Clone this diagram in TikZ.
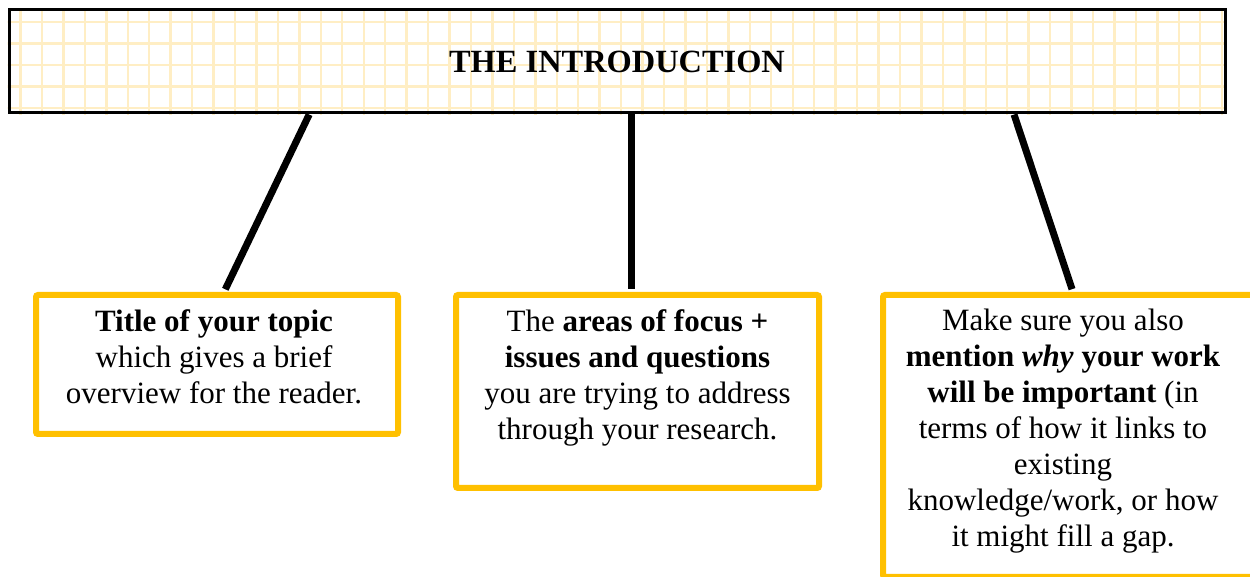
\documentclass[tikz,border=0pt]{standalone}
\usepackage{fontspec}
\setmainfont{Liberation Serif}
\usepackage{xcolor}
\usetikzlibrary{positioning,calc,backgrounds}
\definecolor{boxyellow}{HTML}{FFC000}
\definecolor{gridyellow}{HTML}{FFEEC4}

\begin{document}
\begin{tikzpicture}[x=0.5pt,y=-0.5pt,
		txt/.style={align=center,inner sep=0pt,font=\fontsize{15.5}{18}\selectfont},
		yellowbox/.style={draw=boxyellow,line width=3pt,rounded corners=1pt,fill=white},
		gridline/.style={gridyellow,line width=1.2pt},
		link/.style={line width=3.5pt,shorten >=1.5pt}]
		\useasboundingbox (0,0) rectangle (1250,577);
		\node[draw,line width=1.5pt,minimum width=608pt,minimum height=51.5pt,
			font=\fontsize{16.2}{19}\selectfont\bfseries] (title) at (617,61.5) {THE INTRODUCTION};
		% squared paper behind the heading
		\begin{scope}[on background layer]
			\clip (title.south west) rectangle (title.north east);
			\foreach \i in {0,...,56}
				\draw[gridline] ({20.5+21.45*\i},0) -- ++(0,130);
			\foreach \j in {0,...,5}
				\draw[gridline] (0,{0.5+21.5*\j}) -- ++(1250,0);
		\end{scope}
		
		\node[yellowbox,minimum width=181pt,minimum height=69.5pt] (topic) at (217,364.5) {};
		\node[yellowbox,minimum width=181.5pt,minimum height=96.5pt] (focus) at (637.5,391.5) {};
		\node[yellowbox,minimum width=185pt,minimum height=141pt] (why) at (1068,436) {};
		
		\node[txt,below=8.5pt of topic.north,xshift=-1.5pt] (topictext) {\textbf{Title of your topic}\\ which gives a brief\\ overview for the reader.};
		\node[txt,below=8.5pt of focus.north] (focustext) {The \textbf{areas of focus +}\\ \textbf{issues and questions}\\ you are trying to address\\ through your research.};
		\node[txt,below=8.5pt of why.north,xshift=-2.5pt] (whytext) {Make sure you also\\ \textbf{mention \textit{why} your work}\\ \textbf{will be important} (in\\ terms of how it links to\\ existing\\ knowledge/work, or how\\ it might fill a gap.};
		
		\coordinate (left) at ($(title.south west)!0.2475!(title.south east)$);
		\coordinate (mid) at ($(title.south west)!0.5123!(title.south east)$);
		\coordinate (right) at ($(title.south west)!0.8257!(title.south east)$);
		\draw[link] (left) -- ($(topic.north)+(7,0)$);
		\draw[link] (mid) -- (mid |- focus.north);
		\draw[link] (right) -- ($(why.north)+(5,0)$);
		
\end{tikzpicture}
\end{document}
